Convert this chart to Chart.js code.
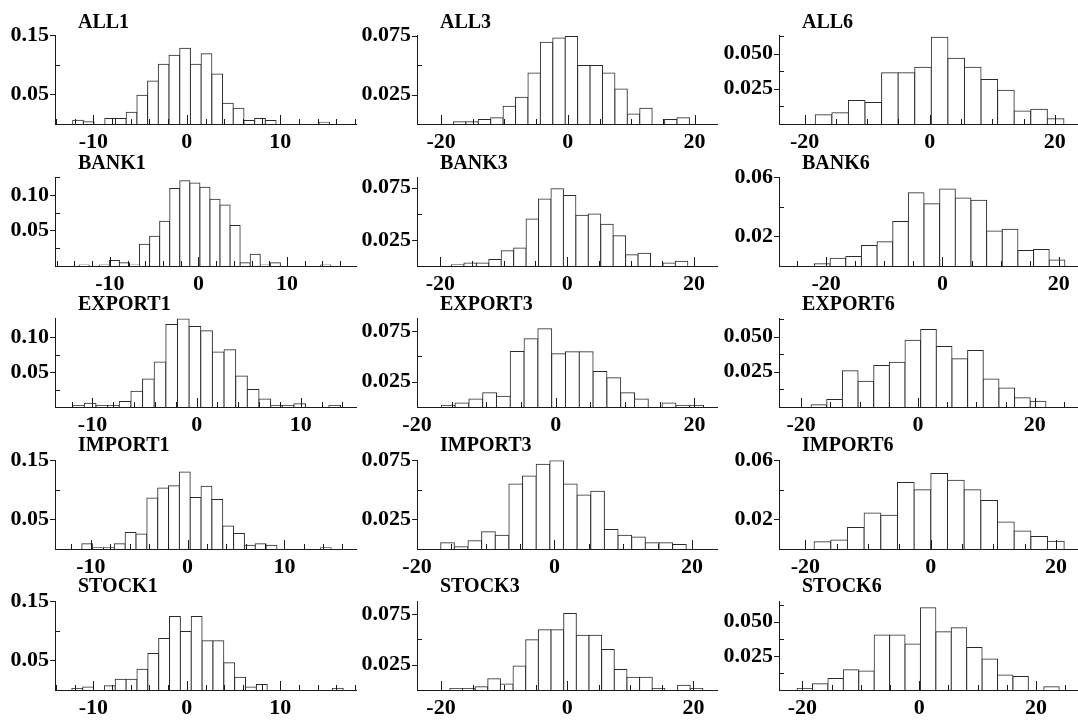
<!DOCTYPE html>
<html><head><meta charset="utf-8">
<script src="https://cdn.jsdelivr.net/npm/chart.js@4.4.0/dist/chart.umd.min.js"></script>
<style>
html,body{margin:0;padding:0;background:#fff;}
#wrap{position:relative;width:1078px;height:722px;overflow:hidden;background:#fff;}
#wrap canvas{position:absolute;}
.ttl{position:absolute;font-family:"Liberation Serif","Times New Roman",serif;font-weight:bold;font-size:20px;line-height:20px;color:#000;white-space:nowrap;}
</style></head><body><div id="wrap"></div>
<script>
// ---------- DATA (densities) ----------
const panelNames = ['ALL1','BANK1','EXPORT1','IMPORT1','STOCK1',
                    'ALL3','BANK3','EXPORT3','IMPORT3','STOCK3',
                    'ALL6','BANK6','EXPORT6','IMPORT6','STOCK6'];

const ALL1    = [0.0065,0.004,0,0.0092,0.0092,0.020,0.0487,0.0726,0.101,0.116,0.128,0.101,0.1186,0.0845,0.035,0.0265,0.006,0.0092,0.006,0,0,0,0,0.003];
const BANK1   = [0.0014,0,0.0014,0.0077,0.0045,0.0014,0.0305,0.042,0.063,0.109,0.12,0.117,0.111,0.094,0.086,0.057,0.0045,0.0164,0.0014,0.0045,0,0,0,0,0.0014];
const EXPORT1 = [0.0023,0.0055,0.0023,0.0023,0.008,0.0227,0.04,0.0645,0.118,0.126,0.115,0.109,0.0786,0.0818,0.0445,0.025,0.0114,0.0023,0.0023,0.0045,0,0,0.0023];
const IMPORT1 = [0.009,0.002,0.002,0.009,0.0277,0.0255,0.086,0.103,0.107,0.130,0.087,0.106,0.0835,0.039,0.026,0.0064,0.009,0.0064,0,0,0,0,0.002];
const STOCK1  = [0.0026,0.0052,0,0.0073,0.018,0.018,0.035,0.0615,0.087,0.124,0.099,0.124,0.083,0.083,0.046,0.0214,0.0052,0.0094,0,0,0,0,0,0,0.0026];
const ALL3    = [0.0019,0.0019,0.0038,0.0054,0.015,0.0228,0.0433,0.0696,0.0731,0.0745,0.0497,0.0497,0.0433,0.0298,0.0086,0.0134,0,0.0038,0.0054];
const BANK3   = [0.0012,0.0028,0.0028,0.0062,0.0145,0.0173,0.045,0.0642,0.074,0.0676,0.0485,0.0497,0.040,0.029,0.0108,0.0123,0,0.0028,0.0046];
const EXPORT3 = [0.0016,0.004,0.0078,0.014,0.0106,0.0547,0.0672,0.0772,0.0525,0.0544,0.0544,0.035,0.0288,0.014,0.0078,0,0.004,0.0016,0.0016];
const IMPORT3 = [0.0053,0.0019,0.0069,0.0146,0.0117,0.0548,0.0617,0.0715,0.0745,0.0548,0.0457,0.0487,0.0165,0.0117,0.0101,0.0053,0.0053,0.0037];
const STOCK3  = [0.0016,0.0016,0.0031,0.011,0.006,0.0237,0.0494,0.0594,0.0594,0.0753,0.054,0.054,0.040,0.0203,0.0125,0.0125,0.0016,0,0.0047,0.0016];
const ALL6    = [0.0065,0.0079,0.0167,0.0153,0.0363,0.0363,0.0403,0.0615,0.0466,0.0403,0.0315,0.0239,0.0092,0.0104,0.0038];
const BANK6   = [0.0015,0.0052,0.0065,0.0138,0.0164,0.030,0.0495,0.042,0.052,0.046,0.0445,0.0236,0.0249,0.0104,0.0112,0.0041];
const EXPORT6 = [0.0016,0.0054,0.0257,0.0183,0.0295,0.0317,0.0473,0.0549,0.0429,0.0342,0.040,0.0199,0.0134,0.0065,0.004];
const IMPORT6 = [0.0049,0.006,0.0145,0.0243,0.0228,0.0449,0.040,0.051,0.0464,0.040,0.0328,0.0183,0.0121,0.0085,0.0053];
const STOCK6  = [0.0011,0.0045,0.0084,0.0148,0.0139,0.0402,0.0402,0.0336,0.0602,0.0427,0.0455,0.0311,0.0227,0.0109,0.0098,0,0.0023];

const panelValues = [ALL1,BANK1,EXPORT1,IMPORT1,STOCK1,ALL3,BANK3,EXPORT3,IMPORT3,STOCK3,ALL6,BANK6,EXPORT6,IMPORT6,STOCK6];

// left edge of first bin and bin width (x units)
const binStarts = [-12.21,-13.47,-11.9,-10.93,-12.3, -18.05,-18.26,-16.5,-16.55,-18.6, -18.3,-22.0,-18.3,-18.6,-20.9];
const binWidths = [1.145,1.136,1.118,1.12,1.161, 1.96,1.963,1.99,1.985,2.005, 2.65,2.69,2.68,2.66,2.64];

// axis ranges
const xMins = [-14.1,-16.2,-13.6,-13.7,-14.1, -23.8,-23.7,-20,-20,-23.8, -24.1,-28.1,-23.8,-24.2,-24.0];
const xMaxs = [18.2,17.9,15.4,17.5,18.2, 23.7,23.8,23.4,23.8,23.9, 23.7,23.3,27.4,23.5,27.2];
const yMaxs = [0.15,0.125,0.127,0.15,0.15, 0.0755,0.085,0.0875,0.075,0.0875, 0.063,0.06,0.063,0.06,0.065];

// tick labels
const xTickLabelsCol1 = ['-10','0','10'];
const xTickLabelsCol23 = ['-20','0','20'];
const yTickLabels = [['0.05','0.15'],['0.05','0.10'],['0.05','0.10'],['0.05','0.15'],['0.05','0.15'],
                     ['0.025','0.075'],['0.025','0.075'],['0.025','0.075'],['0.025','0.075'],['0.025','0.075'],
                     ['0.025','0.050'],['0.02','0.06'],['0.025','0.050'],['0.02','0.06'],['0.025','0.050']];
const yMinorTicks = [[0.10],[0.025,0.075,0.125],[0.025,0.075],[0.10],[0.10],
                     [0.05],[0.05],[0.05],[0.05],[0.05],
                     [0.0125,0.0375,0.0625],[0.04],[0.0125,0.0375,0.0625],[0.04],[0.0125,0.0375,0.0625]];

// ---------- LAYOUT ----------
const axisX = [55, 417, 779];
const rightX = [357, 718, 1078];
const baseY = [124, 265.5, 407, 548.5, 690];
const PLOT_H = 93, PAD_TOP = 15, X_H = 30, Y_W = 56;
const FONT = '"Liberation Serif","Times New Roman",serif';
const INK = '#1a1a1a';

const wrap = document.getElementById('wrap');

panelNames.forEach((name, i) => {
  const col = Math.floor(i / 5), row = i % 5;
  const left = axisX[col] - Y_W;
  const top = Math.round(baseY[row] - PLOT_H - PAD_TOP);
  const W = rightX[col] - left, H = PAD_TOP + PLOT_H + X_H;

  const cv = document.createElement('canvas');
  cv.width = W; cv.height = H;
  cv.style.left = left + 'px'; cv.style.top = top + 'px';
  cv.style.width = W + 'px'; cv.style.height = H + 'px';
  wrap.appendChild(cv);

  const t = document.createElement('div');
  t.className = 'ttl';
  t.textContent = name;
  t.style.left = (axisX[col] + 23) + 'px';
  t.style.top = (11 + 141 * row) + 'px';
  wrap.appendChild(t);

  const vals = panelValues[i];
  const data = vals.map((v, k) => ({x: binStarts[i] + binWidths[i] * (k + 0.5), y: v}));
  const xLabels = col === 0 ? xTickLabelsCol1 : xTickLabelsCol23;
  const xMajor = xLabels.map(Number);
  const step = col === 0 ? 2 : 5;
  const xMinor = [];
  for (let v = Math.ceil(xMins[i] / step) * step; v <= xMaxs[i]; v += step) {
    if (!xMajor.includes(v)) xMinor.push(v);
  }
  const yMajor = yTickLabels[i].map(Number);
  const decimals = yTickLabels[i][0].split('.')[1].length;

  const tickPlugin = {
    id: 'tickMarks',
    afterDatasetsDraw(chart) {
      const {ctx, chartArea} = chart;
      const xs = chart.scales.x, ys = chart.scales.y;
      const L = Math.round(chartArea.left), B = Math.round(chartArea.bottom);
      ctx.save();
      ctx.strokeStyle = INK; ctx.lineWidth = 1;
      ctx.beginPath();
      yMajor.forEach(v => { const y = Math.round(ys.getPixelForValue(v)) + 0.5; ctx.moveTo(L - 5, y); ctx.lineTo(L, y); });
      yMinorTicks[i].forEach(v => { if (v <= yMaxs[i] + 1e-9) { const y = Math.round(ys.getPixelForValue(v)) + 0.5; ctx.moveTo(L, y); ctx.lineTo(L + 5, y); } });
      xMajor.forEach(v => { const x = Math.round(xs.getPixelForValue(v)) + 0.5; ctx.moveTo(x, B); ctx.lineTo(x, B - 9); });
      xMinor.forEach(v => { const x = Math.round(xs.getPixelForValue(v)) + 0.5; ctx.moveTo(x, B); ctx.lineTo(x, B - 5); });
      ctx.stroke();
      ctx.restore();
    }
  };

  new Chart(cv, {
    type: 'bar',
    data: { datasets: [{
      data,
      backgroundColor: '#ffffff',
      borderColor: '#2a2a2a',
      borderWidth: 1,
      borderSkipped: 'start',
      inflateAmount: 0.5,
      barPercentage: 1,
      categoryPercentage: 1
    }]},
    options: {
      responsive: false,
      devicePixelRatio: 1,
      animation: false,
      layout: { padding: { top: PAD_TOP, left: 0, right: 0, bottom: 0 } },
      plugins: { legend: { display: false }, tooltip: { enabled: false }, title: { display: false } },
      scales: {
        x: {
          type: 'linear', min: xMins[i], max: xMaxs[i], offset: false,
          grid: { display: false, drawTicks: false, offset: false },
          border: { display: true, color: INK, width: 1 },
          afterBuildTicks: s => { s.ticks = xMajor.map(v => ({value: v})); },
          afterFit: s => { s.height = X_H; },
          ticks: { autoSkip: false, maxRotation: 0, padding: 5, color: '#000',
                   font: { family: FONT, size: 22, weight: 'bold' },
                   callback: v => xLabels[xMajor.indexOf(v)] }
        },
        y: {
          type: 'linear', min: 0, max: yMaxs[i],
          grid: { display: false, drawTicks: false },
          border: { display: true, color: INK, width: 1 },
          afterBuildTicks: s => { s.ticks = yMajor.map(v => ({value: v})); },
          afterFit: s => { s.width = Y_W; },
          ticks: { padding: 6, color: '#000',
                   font: { family: FONT, size: 22, weight: 'bold' },
                   callback: v => Number(v).toFixed(decimals) }
        }
      }
    },
    plugins: [tickPlugin]
  });
});
</script></body></html>
